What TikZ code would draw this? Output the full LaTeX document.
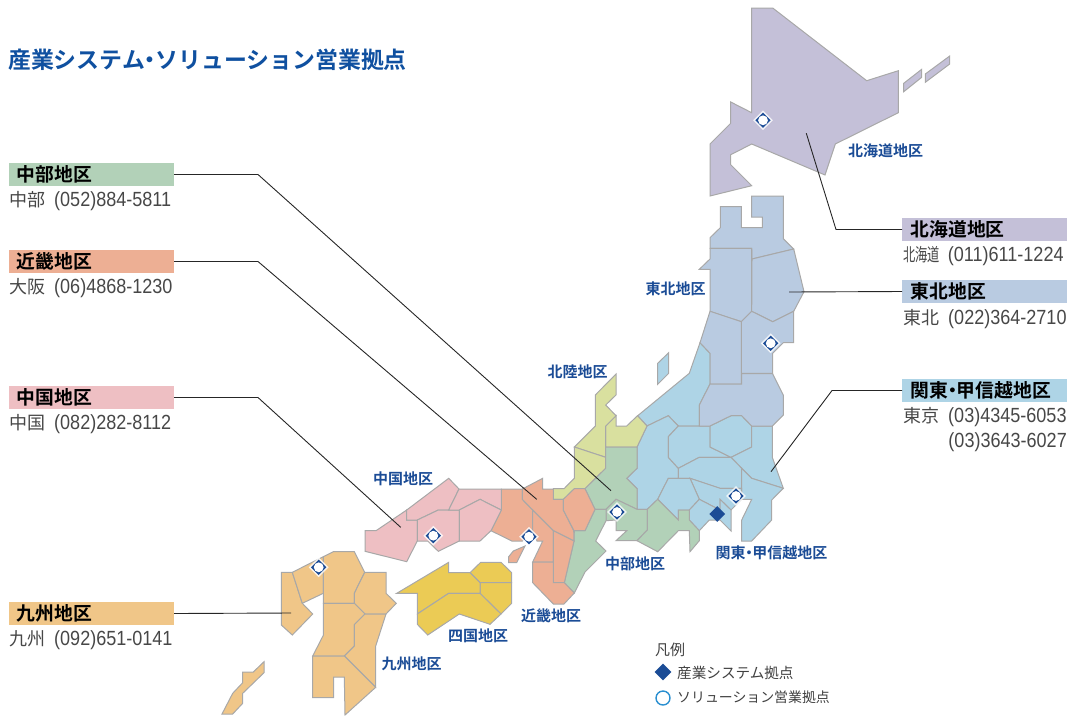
\documentclass[tikz,border=0pt]{standalone}
\usepackage{fontspec}
\usetikzlibrary{shapes.geometric}
\setmainfont{Noto Sans CJK JP}
\newfontfamily\jpb{Noto Sans CJK JP}[BoldFont={* Bold}]
\newfontfamily\numf[FakeStretch=0.88]{Liberation Sans}
\definecolor{cHok}{HTML}{C4C0D8}
\definecolor{cToh}{HTML}{B9CBE1}
\definecolor{cKan}{HTML}{AED4E6}
\definecolor{cChu}{HTML}{B2D1B8}
\definecolor{cRik}{HTML}{D9E09F}
\definecolor{cKin}{HTML}{EDAF94}
\definecolor{cGok}{HTML}{EEBFC3}
\definecolor{cShi}{HTML}{EBCB55}
\definecolor{cKyu}{HTML}{F0C688}
\definecolor{cBlue}{HTML}{1B4C96}
\definecolor{cTitle}{HTML}{0F50A0}
\definecolor{cRing}{HTML}{2A8FD0}
\tikzset{
  pref/.style={draw=black!34,line width=1pt,line join=miter,fill=#1},
  leader/.style={draw=black!85,line width=0.9pt},
  headbox/.style={fill=#1,minimum width=165pt,minimum height=23pt,inner sep=0pt,outer sep=0pt,anchor=north west},
  headtext/.style={anchor=west,inner sep=0pt,text=black,font=\jpb\fontsize{18.8pt}{20pt}\selectfont\bfseries},
  phone/.style={anchor=west,inner sep=0pt,text=black!72,font=\fontsize{18pt}{20pt}\selectfont},
  area/.style={anchor=center,inner sep=0pt,text=cBlue,font=\jpb\fontsize{15pt}{17pt}\selectfont\bfseries},
  legendtext/.style={anchor=west,inner sep=0pt,text=black!75,font=\fontsize{#1}{16pt}\selectfont},
  glow/.style={diamond,fill=white,inner sep=0pt,minimum size=#1,opacity=.8},
  siteD/.style={diamond,fill=cBlue,inner sep=0pt,minimum size=15.5pt},
  siteC/.style={circle,fill=white,inner sep=0pt,minimum size=9.8pt},
  solidD/.style={diamond,fill=cBlue,inner sep=0pt,minimum size=#1},
}
\newcommand{\sitemark}[2]{%
  \node[glow=20pt] (#1g) at (#2) {};
  \node[siteD] (#1) at (#2) {};
  \node[siteC] (#1c) at (#2) {};}
\newcommand{\nm}[1]{{\numf\fontsize{20.5pt}{20pt}\selectfont #1}}
\newcommand{\dotn}{\kern-.27em ・\kern-.27em }
\begin{document}
\begin{tikzpicture}[x=1pt,y=-1pt]
\useasboundingbox (0,0) rectangle (1067,715);
% Hokkaido
\draw[pref=cHok] (751.7,8)--(772.7,8)--(866.7,80.7)--(898.3,70.7)--(898.3,112.7)--(835.3,144)--(825,175)--(751.7,144)--(730.7,154.7)--(730.7,164.7)--(751.7,185.7)--(710,196)--(710,144)--(730.7,123.3)--(730.7,102)--(751.7,112.7)--cycle;
\draw[pref=cHok] (903.7,83.3)--(921.7,69.3)--(921.7,77.3)--(903.7,91.7)--cycle;
\draw[pref=cHok] (925.3,74)--(949.7,56)--(949.7,64)--(925.3,82.3)--cycle;
% Kanto / Koshinetsu
\draw[pref=cKan] (657.7,363.3)--(668.7,352.7)--(668.7,373.3)--(657.7,384.3)--cycle;
\draw[pref=cKan] (700,342.7)--(710,353.3)--(710,384)--(699.3,405)--(699.3,426)--(678.3,426)--(668.3,415.7)--(647,426)--(637.7,415.7)--(689.3,373.3)--cycle;
\draw[pref=cKan] (647,426)--(668.3,415.7)--(678.3,426)--(668.3,436.7)--(668.3,457.3)--(678.3,468.3)--(678.3,478.3)--(668.3,478.3)--(657.7,499.3)--(647.3,509.3)--(637,509.3)--(637,488.7)--(626.7,478.3)--(637,468.3)--(637,447)--cycle;
\draw[pref=cKan] (678.3,426)--(710,426)--(710,447)--(731,457.3)--(699.3,457.3)--(678.3,468.3)--(668.3,457.3)--(668.3,436.7)--cycle;
\draw[pref=cKan] (710,426)--(731,415.7)--(741.7,415.7)--(751.7,426)--(751.7,447)--(731,457.3)--(710,447)--cycle;
\draw[pref=cKan] (751.7,426)--(772.3,426)--(772.3,457.3)--(783.3,488.3)--(751.7,478.3)--(741.7,468.3)--(731,457.3)--(751.7,447)--cycle;
\draw[pref=cKan] (699.3,457.3)--(731,457.3)--(741.7,468.3)--(741.7,488.3)--(720,488.3)--(690,478.3)--(678.3,478.3)--(678.3,468.3)--cycle;
\draw[pref=cKan] (741.7,468.3)--(751.7,478.3)--(783.3,488.3)--(771.7,500)--(771.7,520)--(751.7,541)--(741.7,541)--(741.7,520)--(751.7,499.3)--(741.7,499.3)--(741.7,488.3)--cycle;
\draw[pref=cKan] (690,478.3)--(720,488.3)--(741.7,488.3)--(741.7,499.3)--(731,510)--(720,499.3)--(720,510)--(699.3,499.3)--cycle;
\draw[pref=cKan] (668.3,478.3)--(690,478.3)--(699.3,499.3)--(689.3,510)--(678.3,510)--(678.3,520)--(657.7,499.3)--cycle;
\draw[pref=cKan] (699.3,499.3)--(720,510)--(720,499.3)--(731,510)--(731,531)--(720,520)--(709.3,520)--(699.3,530.7)--(689.3,520)--(689.3,510)--cycle;
% Tohoku
\draw[pref=cToh] (751.7,196)--(783.3,196)--(783.3,238.7)--(793.7,249)--(752,259)--(751.7,248.3)--(710,248.3)--(710,237.7)--(720.3,227.7)--(720.3,206.7)--(741.3,206.7)--(741.3,227.7)--(762.3,227.7)--(762.3,217)--(751.7,217)--cycle;
\draw[pref=cToh] (710,248.3)--(751.7,248.3)--(751.7,311.3)--(741.3,321.7)--(710,311.3)--(710,269.3)--(699.3,269.3)--(710,259)--cycle;
\draw[pref=cToh] (752,259)--(793.7,249)--(804,291.7)--(793.7,311.3)--(772.7,321.7)--(751.7,311.3)--cycle;
\draw[pref=cToh] (751.7,311.3)--(772.7,321.7)--(793.7,311.3)--(793.7,342.7)--(783.3,342.7)--(772.7,353.3)--(772.7,373.3)--(741.3,373.3)--(741.3,321.7)--cycle;
\draw[pref=cToh] (710,311.3)--(741.3,321.7)--(741.3,384)--(710,384)--(710,353.3)--(700,342.7)--cycle;
\draw[pref=cToh] (710,384)--(741.7,384)--(741.7,373.5)--(772.5,373.5)--(783.3,395)--(783.3,415)--(772.3,426)--(751.7,426)--(741.7,415.7)--(731,415.7)--(710,426)--(699.3,426)--(699.3,405)--cycle;
% Hokuriku
\draw[pref=cRik] (605.7,426)--(616,415.7)--(616,426)--(626.7,426)--(637.5,415.7)--(647,426)--(637,447)--(605.7,447)--cycle;
\draw[pref=cRik] (616,374)--(616,395)--(605.7,405)--(616,415.7)--(605.7,426)--(605.7,457.3)--(574.3,447)--(595.3,426)--(595.3,395)--cycle;
\draw[pref=cRik] (574.3,447)--(605.7,457.3)--(605.7,468.3)--(585,488.7)--(574.3,488.7)--(564,499.3)--(553.3,499.3)--(553.3,488.7)--(564,488.7)--(574.3,478.3)--cycle;
% Chubu
\draw[pref=cChu] (605.7,447)--(637,447)--(637,468.3)--(626.7,478.3)--(637,488.7)--(637,509.3)--(616,499.3)--(606,509.3)--(595,509.3)--(585,488.7)--(605.7,468.3)--cycle;
\draw[pref=cChu] (606,509.3)--(616,499.3)--(637,509.3)--(647.3,509.3)--(647.3,530)--(637,540.7)--(616,540.7)--(626.7,530.7)--(616,530.7)--(616,520)--(606,520.7)--cycle;
\draw[pref=cChu] (657.7,499.3)--(678.3,520)--(678.3,510)--(689.3,510)--(689.3,520)--(699.3,530.7)--(699.3,540.7)--(690,551.7)--(689.3,530.7)--(678.3,530.7)--(657.7,551.7)--(637,540.7)--(647.3,530)--(647.3,509.3)--cycle;
\draw[pref=cChu] (574.3,530.7)--(585,530.7)--(595,509.3)--(606,509.3)--(606,520.7)--(595.7,541)--(606,551)--(585,572)--(574.3,593)--(564.3,582.7)--(574,541)--cycle;
% Kinki
\draw[pref=cKin] (501.3,489)--(522.3,489)--(522.3,499.3)--(532.7,510)--(532.7,530.7)--(522.3,541)--(511.7,541)--(491,530.7)--(501.3,510)--cycle;
\draw[pref=cKin] (522.3,489)--(542.7,478.3)--(542.7,489)--(553.3,489)--(553.3,499.3)--(563.3,499.3)--(563.3,510)--(573.7,530.7)--(574,541)--(553.3,530.7)--(532.7,510)--(522.3,499.3)--cycle;
\draw[pref=cKin] (574.3,488.7)--(585,488.7)--(595,509.3)--(585,530.7)--(574,530.7)--(563.3,510)--(563.3,499.3)--cycle;
\draw[pref=cKin] (532.7,510)--(553.3,530.7)--(553.3,562)--(532.7,562)--(542.7,541)--(537,541)--(532.7,530.7)--cycle;
\draw[pref=cKin] (553.3,530.7)--(574,541)--(564.3,582.7)--(553.3,582.7)--cycle;
\draw[pref=cKin] (532.7,562)--(553.3,562)--(553.3,582.7)--(564.3,582.7)--(574.3,593)--(564,604)--(553.3,604)--(532.7,582.7)--cycle;
\draw[pref=cKin] (525,546)--(516.7,562.7)--(508.7,562.7)--(508.7,556.7)--(513.3,551)--cycle;
% Chugoku
\draw[pref=cGok] (365,530.7)--(376,530.7)--(406.7,510)--(406.7,520)--(417.3,520)--(417.3,541)--(406.7,561.7)--(365,551.3)--cycle;
\draw[pref=cGok] (406.7,510)--(448.7,478.3)--(459,489)--(448.7,510)--(438.3,510)--(417.3,520)--(406.7,520)--cycle;
\draw[pref=cGok] (417.3,520)--(438.3,510)--(459.3,510)--(459.3,541)--(438.3,551.3)--(427.7,541)--(417.3,541)--cycle;
\draw[pref=cGok] (459,489)--(501.3,489)--(501.3,510)--(480,499.3)--(459.3,510)--(448.7,510)--cycle;
\draw[pref=cGok] (459.3,510)--(480,499.3)--(501.3,510)--(491,530.7)--(480,541)--(459.3,541)--cycle;
% Shikoku
\draw[pref=cShi] (470,572.7)--(480.7,562.3)--(501,562.3)--(511.7,572.7)--(511.7,582.7)--(480,582.7)--cycle;
\draw[pref=cShi] (480,582.7)--(511.7,582.7)--(511.7,603.3)--(501,614)--(480,593.3)--cycle;
\draw[pref=cShi] (396.7,593.3)--(448.7,562.3)--(448.7,572.7)--(470,572.7)--(480,582.7)--(480,593.3)--(448.7,593.3)--(417.3,614)--(417.3,593.3)--cycle;
\draw[pref=cShi] (417.3,614)--(448.7,593.3)--(480,593.3)--(501,614)--(490,624.3)--(459.3,614)--(427.7,635)--(417.3,624.3)--cycle;
% Kyushu
\draw[pref=cKyu] (281.3,572.3)--(292.3,572.3)--(302.3,603.3)--(312.7,614)--(292.3,635)--(281.3,625)--cycle;
\draw[pref=cKyu] (292.3,572.3)--(323.3,556.7)--(323.3,593.3)--(302.3,603.3)--cycle;
\draw[pref=cKyu] (323.3,556.7)--(333.3,551.7)--(354.3,551.7)--(364.7,572.3)--(354.3,593.3)--(354.3,603.3)--(323.3,603.3)--cycle;
\draw[pref=cKyu] (364.7,572.3)--(386,572.3)--(386,593.3)--(396.3,603.3)--(386,614)--(365,614)--(354.3,603.3)--(354.3,593.3)--cycle;
\draw[pref=cKyu] (323.3,603.3)--(354.3,603.3)--(365,614)--(354.3,624.7)--(354.3,646)--(344.3,656)--(312.7,656)--(323.3,635.3)--cycle;
\draw[pref=cKyu] (365,614)--(386,614)--(375.7,646)--(375.7,687.3)--(344.3,656)--(354.3,646)--(354.3,624.7)--cycle;
\draw[pref=cKyu] (312.7,656)--(344.3,656)--(375.7,687.3)--(345,715)--(344.3,677)--(333.7,677)--(333.7,697.7)--(312.7,697.7)--cycle;
\draw[pref=cKyu] (264,661.7)--(264,672.7)--(242.7,693.3)--(242.7,703.3)--(232.7,714)--(222,714)--(232.7,693.3)--(242.7,682.7)--(242.7,672)--(253.3,672)--cycle;
% Site markers
\sitemark{mHok}{763,120.3}
\sitemark{mToh}{770.7,343.3}
\sitemark{mChu}{617,512}
\sitemark{mKan}{736,496}
\sitemark{mGok}{433.3,535.7}
\sitemark{mKin}{529,536.7}
\sitemark{mKyu}{318.7,567.3}
\node[solidD=16pt] (mTok) at (717.3,514) {};
% Title
\node[anchor=west,inner sep=0pt,text=cTitle,font=\jpb\fontsize{22.9pt}{24pt}\selectfont\bfseries] (title) at (8,60) {産業システム\dotn ソリューション営業拠点};
% Header boxes and leaders
\node[headbox=cChu] (hChu) at (9,163) {};
\node[headtext] (tChu) at (16.5,174.5) {中部地区};
\node[headbox=cKin] (hKin) at (9,250) {};
\node[headtext] (tKin) at (16.5,261.5) {近畿地区};
\node[headbox=cGok] (hGok) at (9,386) {};
\node[headtext] (tGok) at (16.5,397.5) {中国地区};
\node[headbox=cKyu] (hKyu) at (9,602) {};
\node[headtext] (tKyu) at (16.5,613.5) {九州地区};
\node[headbox=cHok] (hHok) at (902,218) {};
\node[headtext] (tHok) at (910.5,229.5) {北海道地区};
\node[headbox=cToh] (hToh) at (902,280) {};
\node[headtext] (tToh) at (910.5,291.5) {東北地区};
\node[headbox=cKan] (hKan) at (902,379) {};
\node[headtext] (tKan) at (910.5,390.5) {関東\dotn 甲信越地区};
\coordinate (eChu) at (611,490.7);
\coordinate (eKin) at (536.7,499.3);
\coordinate (eGok) at (400.7,527.3);
\coordinate (eKyu) at (291,613);
\coordinate (eHok) at (806.3,133.3);
\coordinate (eToh) at (789,292);
\coordinate (eKan) at (771,471.7);
\draw[leader] (hChu.east) -- (258,174.5) -- (eChu);
\draw[leader] (hKin.east) -- (258,261.5) -- (eKin);
\draw[leader] (hGok.east) -- (258,397.5) -- (eGok);
\draw[leader] (hKyu.east) -- (eKyu);
\draw[leader] (hHok.west) -- (836,229.5) -- (eHok);
\draw[leader] (hToh.west) -- (eToh);
\draw[leader] (hKan.west) -- (832,390.5) -- (eKan);
% Phones
\node[phone] (pChu) at (9,201) {中部\hspace{9pt}\nm{(052)884-5811}};
\node[phone] (pKin) at (9,288) {大阪\hspace{9pt}\nm{(06)4868-1230}};
\node[phone] (pGok) at (9,424) {中国\hspace{9pt}\nm{(082)282-8112}};
\node[phone] (pKyu) at (9,640) {九州\hspace{9pt}\nm{(092)651-0141}};
\node[phone] (pHok) at (903,256) {\scalebox{0.68}[1]{北海道}\hspace{8pt}\nm{(011)611-1224}};
\node[phone] (pToh) at (903,319) {東北\hspace{9pt}\nm{(022)364-2710}};
\node[phone] (pKan) at (903,417) {東京\hspace{9pt}\nm{(03)4345-6053}};
\node[phone,anchor=east] (pKan2) at (1067,442) {\nm{(03)3643-6027}};
% Area labels
\node[area] (aHok) at (885.5,151) {北海道地区};
\node[area] (aToh) at (675.5,289) {東北地区};
\node[area] (aRik) at (577.5,372) {北陸地区};
\node[area] (aGok) at (403,479) {中国地区};
\node[area] (aChu) at (635,564) {中部地区};
\node[area] (aKan) at (771.5,553) {関東\dotn 甲信越地区};
\node[area] (aKin) at (551,616) {近畿地区};
\node[area] (aShi) at (478,636) {四国地区};
\node[area] (aKyu) at (411.5,664) {九州地区};
% Legend
\node[legendtext=15pt] (lgT) at (655,650) {凡例};
\node[solidD=17pt] (lgD) at (663,672) {};
\node[legendtext=14.6pt] (lg1) at (677,672.5) {産業システム拠点};
\node[circle,draw=cRing,line width=1.4pt,fill=white,inner sep=0pt,minimum size=14pt] (lgC) at (663,698) {};
\node[legendtext=13.9pt] (lg2) at (677,697) {ソリューション営業拠点};
\end{tikzpicture}
\end{document}
